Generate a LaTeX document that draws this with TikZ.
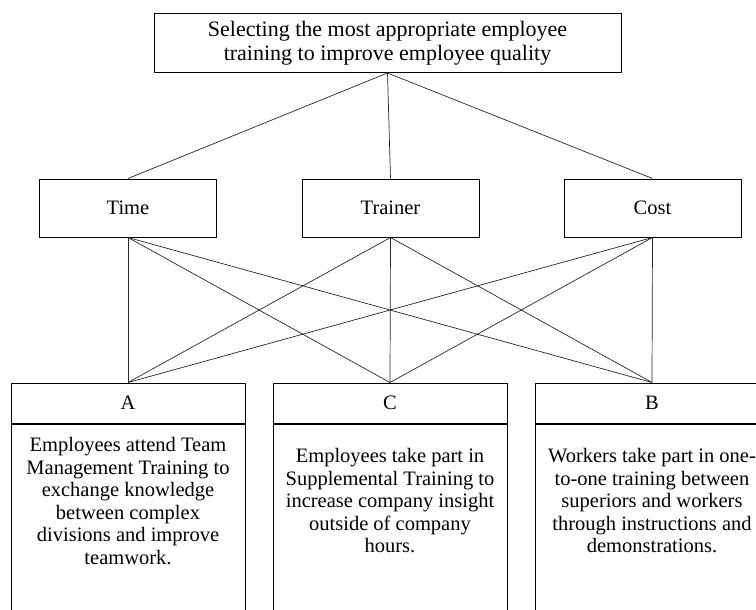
\documentclass[tikz,border=0pt]{standalone}
\usepackage{fontspec}
\setmainfont{Liberation Serif}
\usetikzlibrary{positioning}

\begin{document}
\begin{tikzpicture}[x=1pt, y=-1pt,
    every node/.style={font=\fontsize{20.5}{22.5}\selectfont},
    box/.style={draw, line width=1pt, rectangle, align=center, inner sep=0pt},
    crit/.style={box, minimum width=177pt, minimum height=58pt},
    alt/.style={box, minimum width=234pt, minimum height=40pt},
    altbody/.style={box, minimum width=234pt, minimum height=300pt},
    desc/.style={align=center, inner sep=0pt},
    link/.style={line width=0.7pt, black!85}]
    \useasboundingbox (0,0) rectangle (756,610);
    \clip (0,0) rectangle (756,610);

    % goal
    \node[box, minimum width=467pt, minimum height=59pt,
          font=\fontsize{22}{23.5}\selectfont] (goal) at (387.5,43)
        {Selecting the most appropriate employee\\training to improve employee quality};

    % criteria
    \node[crit] (time) at (128,208) {Time};
    \node[crit] (trainer) at (390.5,208) {Trainer};
    \node[crit] (cost) at (652.5,208) {Cost};

    % alternatives
    \node[alt] (a) at (128,403) {A};
    \node[alt] (c) at (390,403) {C};
    \node[alt] (b) at (652,403) {B};
    \node[altbody, below=0pt of a] (abody) {};
    \node[altbody, below=0pt of c] (cbody) {};
    \node[altbody, below=0pt of b] (bbody) {};

    \node[desc] (atext) at (128,501) {Employees attend Team\\Management Training to\\exchange knowledge\\between complex\\divisions and improve\\teamwork.};
    \node[desc] (ctext) at (390,501) {Employees take part in\\Supplemental Training to\\increase company insight\\outside of company\\hours.};
    \node[desc] (btext) at (652,501) {Workers take part in one-\\to-one training between\\superiors and workers\\through instructions and\\demonstrations.};

    % goal to criteria
    \draw[link] (goal.south) -- (time.north);
    \draw[link] (goal.south) -- (trainer.north);
    \draw[link] (goal.south) -- (cost.north);

    % criteria to alternatives
    \draw[link] (time.south) -- (a.north);
    \draw[link] (time.south) -- (c.north);
    \draw[link] (time.south) -- (b.north);
    \draw[link] (trainer.south) -- (a.north);
    \draw[link] (trainer.south) -- (c.north);
    \draw[link] (trainer.south) -- (b.north);
    \draw[link] (cost.south) -- (a.north);
    \draw[link] (cost.south) -- (c.north);
    \draw[link] (cost.south) -- (b.north);
\end{tikzpicture}
\end{document}
